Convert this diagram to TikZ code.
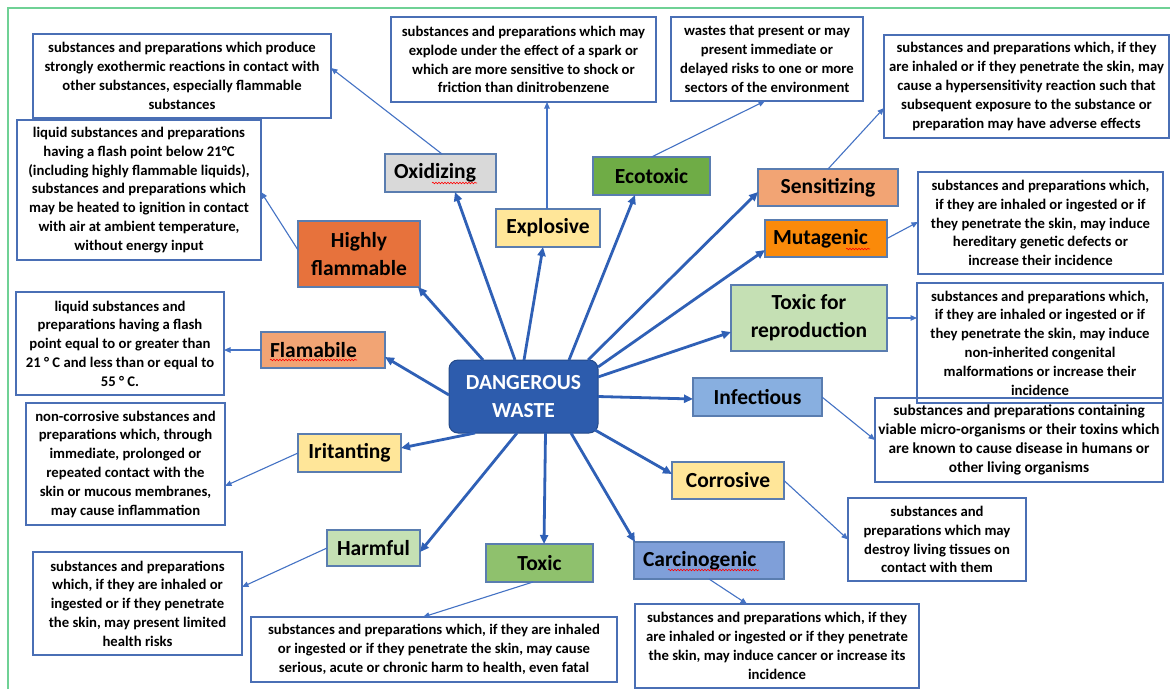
\documentclass[tikz,border=0pt]{standalone}
\usepackage{fontspec}
\setmainfont{Carlito}
\usetikzlibrary{arrows.meta,decorations.pathmorphing}
\definecolor{framegreen}{HTML}{6FD195}
\definecolor{descblue}{HTML}{4A6FB5}
\definecolor{catborder}{HTML}{5A7DB0}
\definecolor{arrowblue}{HTML}{2F60B6}
\definecolor{thinblue}{HTML}{4472C4}
\definecolor{centerblue}{HTML}{2D5CAD}
\definecolor{hfcol}{HTML}{E7723C}
\definecolor{peach}{HTML}{F2A474}
\definecolor{mutcol}{HTML}{FA8A0A}
\definecolor{oxcol}{HTML}{D9D9D9}
\definecolor{yellowc}{HTML}{FFE699}
\definecolor{ecocol}{HTML}{6FAC46}
\definecolor{toxcol}{HTML}{8FC16D}
\definecolor{lightgreen}{HTML}{C5E0B4}
\definecolor{infcol}{HTML}{88AFE0}
\definecolor{carccol}{HTML}{7F9FD9}
\newcommand\descfont{\bfseries\fontsize{14.7}{18.8}\selectfont}
\newcommand\catfont{\bfseries\fontsize{21.5}{28}\selectfont}
\newcommand\ctrfont{\bfseries\fontsize{21.5}{28}\selectfont}
\begin{document}
\begin{tikzpicture}[x=1pt,y=-1pt,
  desc/.style={draw=descblue, line width=1.2pt, inner sep=0pt, outer sep=0pt, align=center, font=\descfont},
  cat/.style={draw=catborder, line width=1.3pt, inner sep=0pt, outer sep=0pt, align=center, font=\catfont},
  bigarrow/.style={draw=arrowblue, line width=2.8pt, -{Triangle[length=9pt,width=8pt]}},
  thinarrow/.style={draw=thinblue, line width=1.1pt, -{Triangle[length=6.5pt,width=5.5pt]}},
  squiggle/.style={draw=red, line width=0.6pt, decorate, decoration={snake, amplitude=0.8pt, segment length=3pt}}]
\useasboundingbox (0,0) rectangle (1170,689);
\fill[white] (0,0) rectangle (1170,689);
\draw[framegreen, line width=2pt] (8,689) -- (8,8) -- (1170,8);

% centre
\node[fill=centerblue, draw=centerblue!80!black, rounded corners=9pt, line width=1pt, inner sep=0pt, outer sep=0pt,
  minimum width=149pt, minimum height=73pt, text=white, align=center, font=\ctrfont] (c) at (523.5,396.5) {DANGEROUS\\WASTE};

% categories
\node[cat, fill=hfcol, minimum width=122pt, minimum height=66pt] (hf) at (359,254) {Highly\\flammable};
\node[cat, fill=oxcol, minimum width=111pt, minimum height=38pt] (ox) at (440.5,173) {\makebox[93pt][l]{Oxidizing}};
\node[cat, fill=yellowc, minimum width=104pt, minimum height=38pt] (ex) at (548,228) {Explosive};
\node[cat, fill=ecocol, minimum width=117pt, minimum height=38pt] (eco) at (651.5,176) {Ecotoxic};
\node[cat, fill=peach, minimum width=140pt, minimum height=37pt] (sen) at (828,187.5) {Sensitizing};
\node[cat, fill=mutcol, minimum width=122pt, minimum height=37pt] (mut) at (826,238.5) {\makebox[106pt][l]{Mutagenic}};
\node[cat, fill=lightgreen, minimum width=156pt, minimum height=66pt] (tfr) at (809,318) {Toxic for\\reproduction};
\node[cat, fill=infcol, minimum width=129pt, minimum height=38pt] (inf) at (757.5,397) {Infectious};
\node[cat, fill=yellowc, minimum width=112pt, minimum height=37pt] (cor) at (728,480.5) {Corrosive};
\node[cat, fill=carccol, minimum width=150pt, minimum height=37pt] (car) at (709,560.5) {\makebox[132pt][l]{Carcinogenic}};
\node[cat, fill=toxcol, minimum width=107pt, minimum height=38pt] (tox) at (539.5,563) {Toxic};
\node[cat, fill=lightgreen, minimum width=93pt, minimum height=36pt] (har) at (373.5,548) {Harmful};
\node[cat, fill=yellowc, minimum width=103pt, minimum height=38pt] (iri) at (349.5,453) {Iritanting};
\node[cat, fill=peach, minimum width=124pt, minimum height=36pt] (fla) at (323,350) {\makebox[106pt][l]{Flamabile}};

% descriptions
\node[desc, minimum width=298pt, minimum height=84pt] (oxd) at (182,76) {substances and preparations which produce\\strongly exothermic reactions in contact with\\other substances, especially flammable\\substances};
\node[desc, minimum width=244pt, minimum height=140pt] (hfd) at (139,190) {liquid substances and preparations\\having a flash point below 21°C\\(including highly flammable liquids),\\substances and preparations which\\may be heated to ignition in contact\\with air at ambient temperature,\\without energy input};
\node[desc, minimum width=265pt, minimum height=85pt] (exd) at (523.5,59.5) {substances and preparations which may\\explode under the effect of a spark or\\which are more sensitive to shock or\\friction than dinitrobenzene};
\node[desc, minimum width=192pt, minimum height=84pt] (ecod) at (767,59) {wastes that present or may\\present immediate or\\delayed risks to one or more\\sectors of the environment};
\node[desc, minimum width=285pt, minimum height=103pt] (send) at (1026.5,86.5) {substances and preparations which, if they\\are inhaled or if they penetrate the skin, may\\cause a hypersensitivity reaction such that\\subsequent exposure to the substance or\\preparation may have adverse effects};
\node[desc, minimum width=245pt, minimum height=102pt] (mutd) at (1040.5,223) {substances and preparations which,\\if they are inhaled or ingested or if\\they penetrate the skin, may induce\\hereditary genetic defects or\\increase their incidence};
\node[desc, minimum width=246pt, minimum height=120pt] (tfrd) at (1040,343) {substances and preparations which,\\if they are inhaled or ingested or if\\they penetrate the skin, may induce\\non-inherited congenital\\malformations or increase their\\incidence};
\node[desc, minimum width=288pt, minimum height=84pt, font=\bfseries\fontsize{15.3}{18.8}\selectfont] (infd) at (1019,440) {substances and preparations containing\\viable micro-organisms or their toxins which\\are known to cause disease in humans or\\other living organisms};
\node[desc, minimum width=178pt, minimum height=83pt] (cord) at (937,539.5) {substances and\\preparations which may\\destroy living tissues on\\contact with them};
\node[desc, minimum width=284pt, minimum height=84pt] (card) at (777,646) {substances and preparations which, if they\\are inhaled or ingested or if they penetrate\\the skin, may induce cancer or increase its\\incidence};
\node[desc, minimum width=366pt, minimum height=65pt] (toxd) at (434,649.5) {substances and preparations which, if they are inhaled\\or ingested or if they penetrate the skin, may cause\\serious, acute or chronic harm to health, even fatal};
\node[desc, minimum width=209pt, minimum height=103pt] (hard) at (137.5,603.5) {substances and preparations\\which, if they are inhaled or\\ingested or if they penetrate\\the skin, may present limited\\health risks};
\node[desc, minimum width=199pt, minimum height=122pt] (irid) at (125.5,464) {non-corrosive substances and\\preparations which, through\\immediate, prolonged or\\repeated contact with the\\skin or mucous membranes,\\may cause inflammation};
\node[desc, minimum width=208pt, minimum height=103pt] (flad) at (120,343.5) {liquid substances and\\preparations having a flash\\point equal to or greater than\\21 ° C and less than or equal to\\55 ° C.};

% thick arrows from the centre
\draw[bigarrow] ([xshift=-40.5pt]c.north) -- ([xshift=-2pt]hf.south east);
\draw[bigarrow] ([xshift=-8.5pt]c.north) -- ([xshift=14.5pt]ox.south);
\draw[bigarrow] ([xshift=0.5pt]c.north) -- ([xshift=-5pt]ex.south);
\draw[bigarrow] ([xshift=45.5pt]c.north) -- ([xshift=-16.5pt]eco.south);
\draw[bigarrow] ([xshift=64.5pt]c.north) -- ([yshift=-4.5pt]sen.west);
\draw[bigarrow] ([yshift=29.5pt]c.east) -- ([yshift=-11.5pt]mut.west);
\draw[bigarrow] ([yshift=19.5pt]c.east) -- ([yshift=-14pt]tfr.west);
\draw[bigarrow] (c.east) -- ([yshift=-2pt]inf.west);
\draw[bigarrow] ([xshift=-3pt,yshift=3pt]c.south east) -- ([yshift=6.5pt]cor.west);
\draw[bigarrow] ([xshift=47.5pt]c.south) -- ([xshift=1pt]car.north west);
\draw[bigarrow] ([xshift=22pt]c.south) -- ([xshift=4.5pt]tox.north);
\draw[bigarrow] ([xshift=-6.5pt]c.south) -- ([yshift=-4pt]har.east);
\draw[bigarrow] ([xshift=-48.5pt]c.south) -- ([yshift=5pt]iri.east);
\draw[bigarrow] ([yshift=1.5pt]c.west) -- ([yshift=-7pt]fla.east);

% thin arrows to the descriptions
\draw[thinarrow] ([xshift=1.5pt]ox.north) -- ([yshift=8pt]oxd.east);
\draw[thinarrow] ([yshift=4pt]hf.west) -- ([yshift=-2pt]hfd.east);
\draw[thinarrow] ([xshift=-1pt]ex.north) -- ([xshift=23.5pt]exd.south);
\draw[thinarrow] (eco.north) -- ([xshift=-2pt]ecod.south);
\draw[thinarrow] (sen.north) -- ([yshift=-21.5pt]send.west);
\draw[thinarrow] (mut.east) -- ([yshift=1pt]mutd.west);
\draw[thinarrow] (tfr.east) -- ([yshift=25pt]tfrd.west);
\draw[thinarrow] (inf.east) -- (infd.west);
\draw[thinarrow] (cor.east) -- (cord.west);
\draw[thinarrow] (car.south) -- ([xshift=-30pt]card.north);
\draw[thinarrow] ([xshift=-6.5pt]tox.south) -- ([xshift=-11pt]toxd.north);
\draw[thinarrow] (har.west) -- ([yshift=16.5pt]hard.east);
\draw[thinarrow] (iri.west) -- ([yshift=-22pt]irid.east);
\draw[thinarrow] (fla.west) -- ([yshift=-6.5pt]flad.east);

% spell-check underlines
\draw[squiggle] (432,183) -- (477,183);
\draw[squiggle] (270,360) -- (357,360);
\draw[squiggle] (846,249) -- (870,249);
\draw[squiggle] (668,570) -- (759,570);
\end{tikzpicture}
\end{document}
